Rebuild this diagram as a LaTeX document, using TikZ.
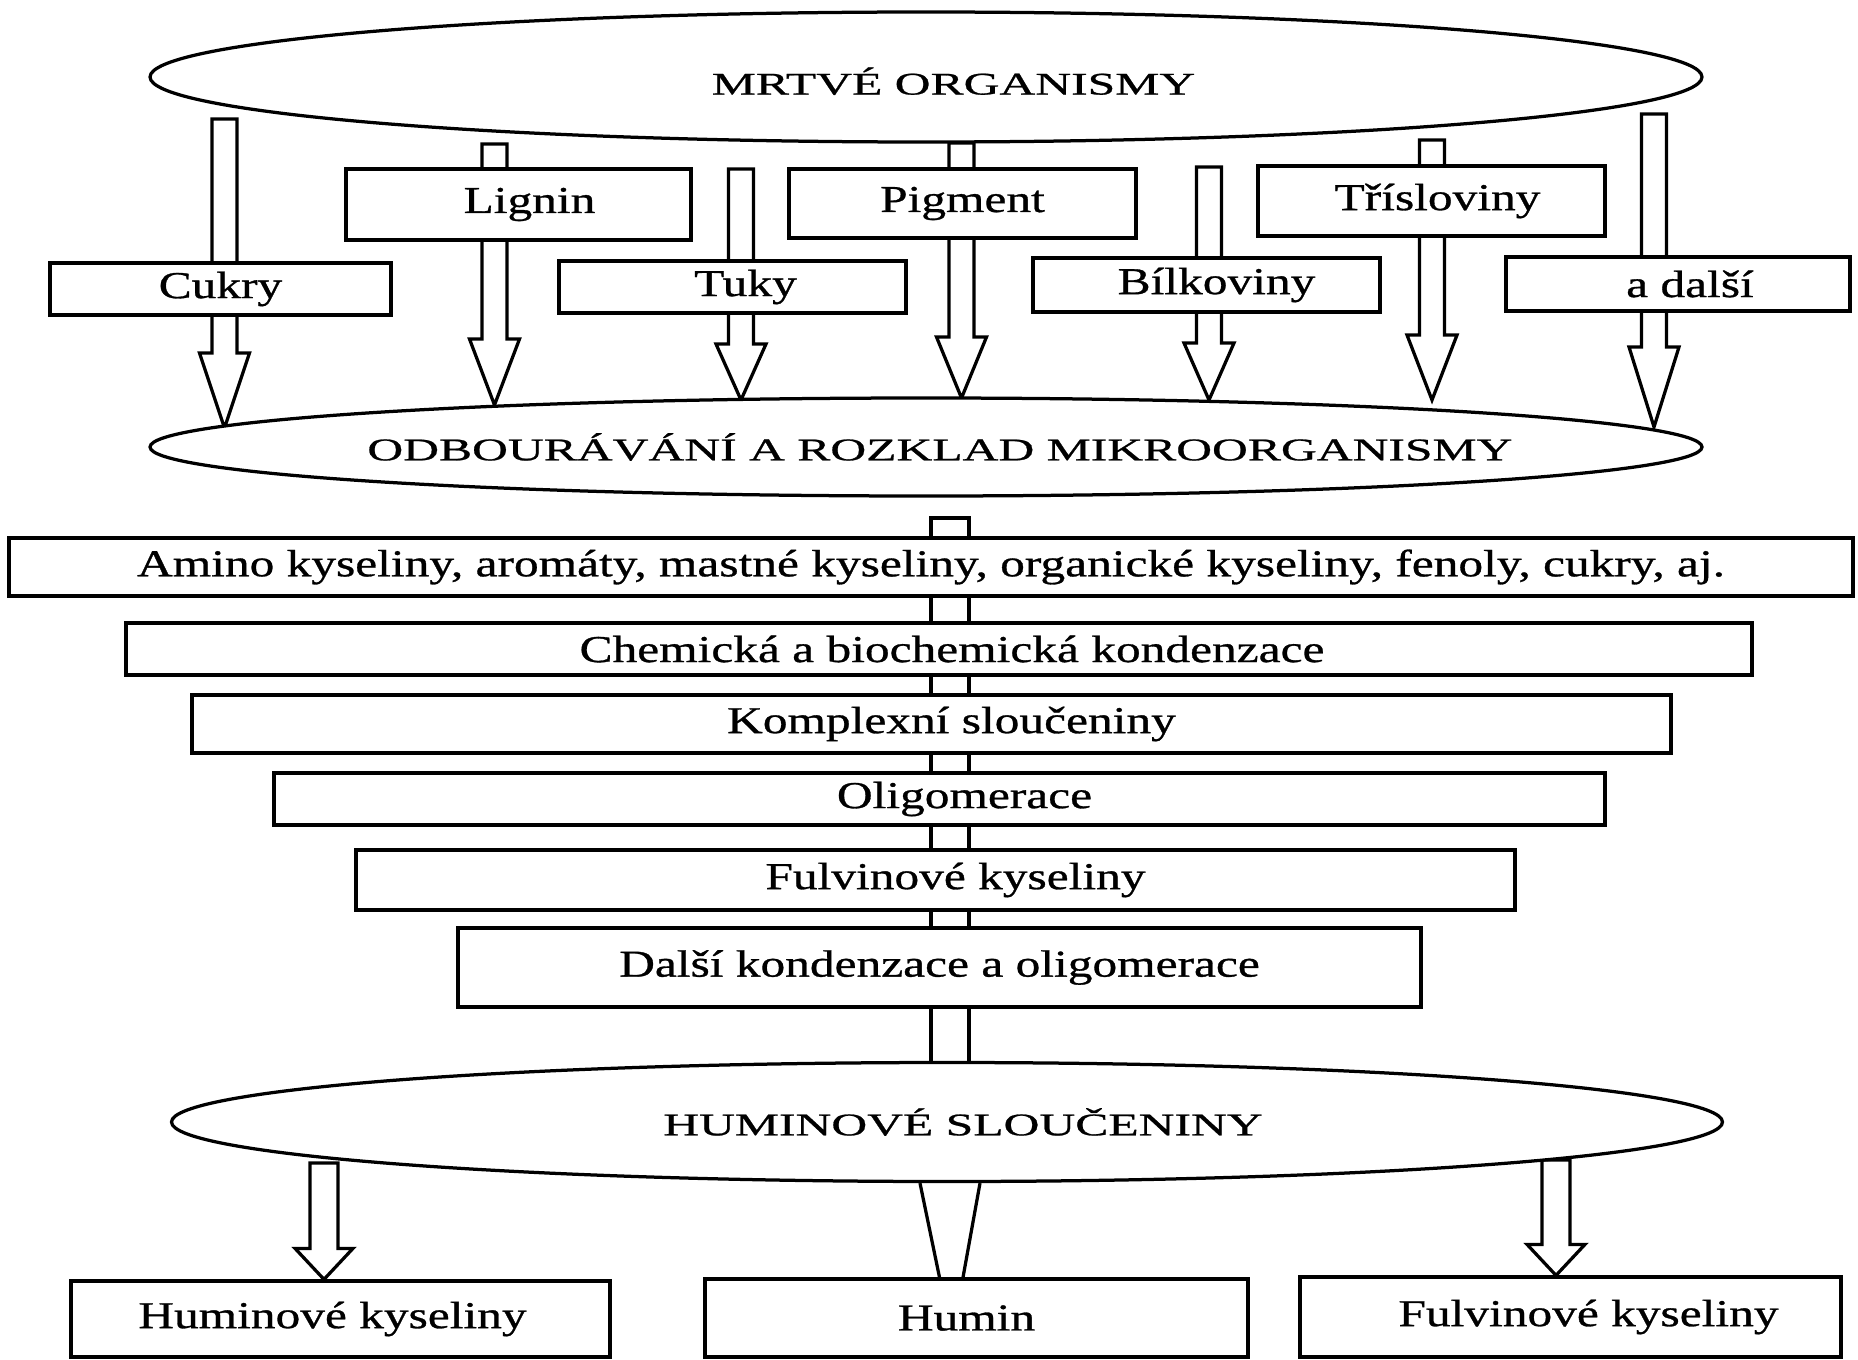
\documentclass[tikz,border=0pt]{standalone}
\usepackage{fontspec}
\setmainfont{Liberation Serif}[FakeStretch=1.30, FakeBold=0.8]
\newfontfamily\capsfont{Liberation Serif}[FakeStretch=1.575, FakeBold=0.8]
\usetikzlibrary{shapes.geometric,calc,backgrounds}
\newcommand\shr[2]{\hspace*{#1}#2}
\newcommand\shl[2]{#2\hspace*{#1}}
% ellipse label: zero-width box so that the ellipse keeps its given size
\newcommand\elabel[2]{\makebox[0pt]{\hspace*{#1}#2}}
% start coordinate, tip coordinate, shaft half width, head half width, head length
\newcommand\blockarrow[5]{%
  \draw[arr] ($(#1 -| #2)+(-#3,0)$) -- ($(#1 -| #2)+(#3,0)$) -- ($(#2)+(#3,-#5)$)
    -- ($(#2)+(#4,-#5)$) -- (#2) -- ($(#2)+(-#4,-#5)$) -- ($(#2)+(-#3,-#5)$) -- cycle;}
\tikzset{
  arr/.style={draw, fill=white, line width=1.3pt, line join=miter},
  conn/.style={draw, line width=1.3pt},
  box/.style={draw, fill=white, line width=1.3pt, rectangle, inner sep=0pt,
    font=\fontsize{15.2pt}{18pt}\selectfont},
  ell/.style={draw, fill=white, ellipse, inner sep=0pt, line width=1.3pt,
    font=\capsfont\fontsize{12.6pt}{15pt}\selectfont},
  sz/.style 2 args={minimum width=#1*0.4pt, minimum height=#2*0.4pt}}
\begin{document}
\begin{tikzpicture}[x=0.4pt,y=-0.4pt]
\useasboundingbox (0,0) rectangle (1858,1359);

% ellipses
\node[ell, sz={1552}{130}] (mrtve) at (926,77) {\elabel{22pt}{\raisebox{-1.6pt}[\height][0pt]{MRTVÉ ORGANISMY}}};
\node[ell, sz={1552}{98}] (odb) at (926,447) {\elabel{11.2pt}{ODBOURÁVÁNÍ A ROZKLAD MIKROORGANISMY}};
\node[ell, sz={1551}{119}] (hum) at (947,1122) {\elabel{12.8pt}{HUMINOVÉ SLOUČENINY}};

% upper boxes
\node[box, sz={341}{52}] (cukry) at (220.5,289) {Cukry};
\node[box, sz={345}{71}] (lignin) at (518.5,204.5) {\shr{8.8pt}{Lignin}};
\node[box, sz={347}{52}] (tuky) at (732.5,287) {\shr{10.4pt}{Tuky}};
\node[box, sz={347}{69}] (pigment) at (962.5,203.5) {Pigment};
\node[box, sz={347}{54}] (bilk) at (1206.5,285) {\shr{8pt}{Bílkoviny}};
\node[box, sz={347}{70}] (tris) at (1431.5,201) {\shr{4.8pt}{Třísloviny}};
\node[box, sz={344}{54}] (dalsi) at (1678,284) {\shr{9.6pt}{a další}};

% middle column
\node[box, sz={1844}{58}] (amino) at (931,567) {Amino kyseliny, aromáty, mastné kyseliny, organické kyseliny, fenoly, cukry, aj.};
\node[box, sz={1626}{52}] (chem) at (939,649) {\shr{10.4pt}{Chemická a biochemická kondenzace}};
\node[box, sz={1479}{58}] (kompl) at (931.5,724) {\shr{16pt}{Komplexní sloučeniny}};
\node[box, sz={1331}{52}] (olig) at (939.5,799) {\shr{20pt}{Oligomerace}};
\node[box, sz={1159}{60}] (fulv) at (935.5,880) {\shr{16pt}{Fulvinové kyseliny}};
\node[box, sz={963}{79}] (dkond) at (939.5,967.5) {Další kondenzace a oligomerace};

% bottom boxes
\node[box, sz={539}{76}] (hk) at (340.5,1319) {\shl{6.4pt}{Huminové kyseliny}};
\node[box, sz={543}{78}] (humin) at (976.5,1318) {\shl{8pt}{Humin}};
\node[box, sz={541}{80}] (fk) at (1570.5,1317) {\shr{14.4pt}{Fulvinové kyseliny}};

% connector end points
\coordinate (a1s) at (224.5,119);  \coordinate (a1t) at (224.5,428);
\coordinate (a2s) at (494.5,144);  \coordinate (a2t) at (494.5,405);
\coordinate (a3s) at (741,169);    \coordinate (a3t) at (741,400);
\coordinate (a4s) at (961.5,143);  \coordinate (a4t) at (961.5,398);
\coordinate (a5s) at (1209,167);   \coordinate (a5t) at (1209,400);
\coordinate (a6s) at (1432,140);   \coordinate (a6t) at (1432,400);
\coordinate (a7s) at (1654,114);   \coordinate (a7t) at (1654,427);
\coordinate (ms) at (950,518);
\coordinate (la) at (324,1163);    \coordinate (lat) at (hk.north -| la);
\coordinate (ra) at (1556,1160);   \coordinate (rat) at (fk.north -| ra);
\coordinate (w1) at ($(hum.south)+(-27,0)$);
\coordinate (w2) at ($(humin.north)+(-37,0)$);
\coordinate (w3) at ($(hum.south)+(33,0)$);
\coordinate (w4) at ($(humin.north)+(-13.5,0)$);

\begin{pgfonlayer}{background}
\fill[white] (0,0) rectangle (1858,1359);
\blockarrow{a1s}{a1t}{12.5}{25}{75}
\blockarrow{a2s}{a2t}{12.5}{25}{66}
\blockarrow{a3s}{a3t}{12.5}{25}{56}
\blockarrow{a4s}{a4t}{12.5}{25}{61}
\blockarrow{a5s}{a5t}{12.5}{25}{57}
\blockarrow{a6s}{a6t}{12.5}{25}{65}
\blockarrow{a7s}{a7t}{12.5}{25}{80}
\draw[arr] ($(ms)+(-19,0)$) rectangle ($(hum.north -| ms)+(19,10)$);
\blockarrow{la}{lat}{14}{29}{31}
\blockarrow{ra}{rat}{14}{29}{31}
\end{pgfonlayer}

\draw[conn] (w1) -- (w2);
\draw[conn] (w3) -- (w4);
\end{tikzpicture}
\end{document}
